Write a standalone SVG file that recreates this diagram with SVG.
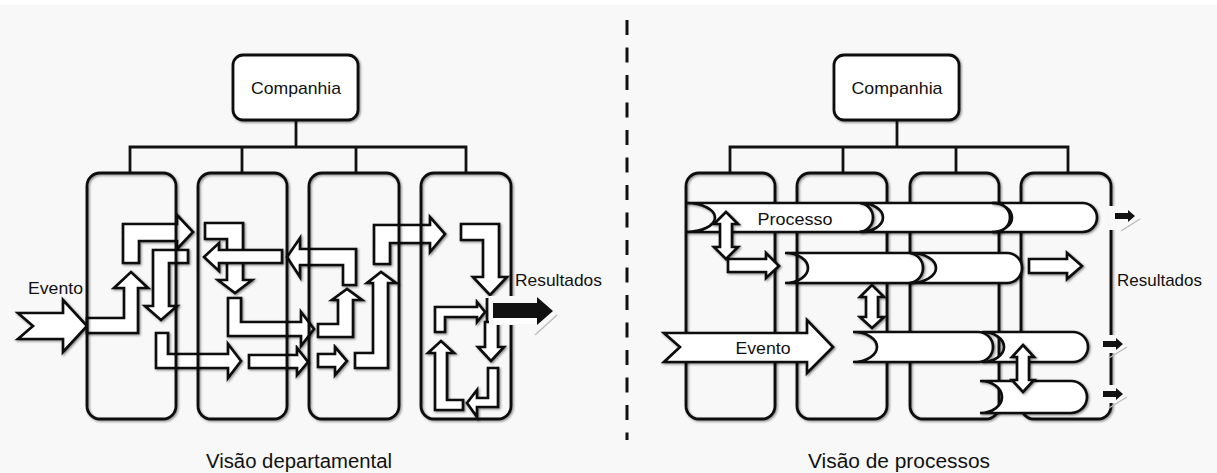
<svg xmlns="http://www.w3.org/2000/svg" width="1217" height="473" viewBox="0 0 1217 473">
<defs>
<filter id="sh" x="-10%" y="-10%" width="130%" height="130%">
<feDropShadow dx="1.2" dy="1.2" stdDeviation="0.9" flood-color="#000" flood-opacity="0.45"/>
</filter>
<style>
.bx{fill:none;stroke:#111;stroke-width:2.8;filter:url(#sh)}
.bxw{fill:#fff;stroke:#111;stroke-width:2.8;filter:url(#sh)}
.ln{fill:none;stroke:#111;stroke-width:2.8}
.ar{fill:#fff;stroke:#111;stroke-width:2.7;stroke-linejoin:miter;filter:url(#sh)}
.blk{fill:#111;stroke:none}
.gl{fill:none;stroke:#bbb;stroke-width:1.4}
.t{font-family:"Liberation Sans",Arial,sans-serif;font-size:17px;fill:#111;text-anchor:middle}
.cap{font-family:"Liberation Sans",Arial,sans-serif;font-size:20px;fill:#111;text-anchor:middle}
</style>
</defs>
<rect x="0" y="0" width="1217" height="473" fill="#f8f8f8"/>
<rect x="0" y="0" width="1217" height="5" fill="#fff"/>

<g id="divider"><line x1="627" y1="20" x2="627" y2="440" stroke="#111" stroke-width="3" stroke-dasharray="15 12.5"/></g>

<!-- LEFT: departmental view -->
<g id="connectors-left">
<path class="ln" d="M296 120V147M130 173V147H466V173M242 147V173M356 147V173"/>
</g>
<g id="companhia-left"><rect class="bxw" x="233" y="55" width="125" height="65" rx="10"/><text class="t" x="296" y="94" textLength="90" lengthAdjust="spacingAndGlyphs">Companhia</text></g>

<g id="arrows-left">
<polygon class="ar" points="18,313 63,313 63,300 87,326 63,352 63,339 18,339 33,326"/>
<polygon class="ar" points="87,318 124,318 124,288 114,288 131,272 148,288 138,288 138,333 87,333"/>
<polygon class="ar" points="123,263 123,224 177,224 177,215 193,232 177,249 177,241 139,241 139,263"/>
<polygon class="ar" points="153,250 188,250 188,263 169,263 169,306 177,306 161,320 145,306 153,306"/>
<polygon class="ar" points="156,333 168,333 168,354 228,354 228,344 241,361 228,378 228,368 156,368"/>
<polygon class="ar" points="249,355 297,355 297,348 308,362 297,375 297,368 249,368"/>
<polygon class="ar" points="205,223 243,223 243,280 252,280 235,293 218,280 227,280 227,239 205,239"/>
<polygon class="ar" points="282,250 219,250 219,243 204,257 219,271 219,263 282,263"/>
<polygon class="ar" points="356,249 300,249 300,238 287,257 300,277 300,265 343,265 343,285 356,285"/>
<polygon class="ar" points="228,298 241,298 241,322 301,322 301,312 314,329 301,346 301,336 228,336"/>
<polygon class="ar" points="318,324 338,324 338,300 332,300 347,289 362,300 353,300 353,337 318,337"/>
<polygon class="ar" points="318,354 335,354 335,347 347,361 335,375 335,367 318,367"/>
<polygon class="ar" points="355,353 373,353 373,283 367,283 381,272 396,283 388,283 388,368 355,368"/>
<polygon class="ar" points="374,264 374,225 430,225 430,217 445,234 430,252 430,243 390,243 390,264"/>
<polygon class="ar" points="461,224 499,224 499,277 507,277 490,295 473,277 483,277 483,240 461,240"/>
<polygon class="ar" points="435,332 435,307 477,307 477,302 485,312 477,322 477,317 445,317 445,332"/>
<polygon class="ar" points="485,322 498,322 498,347 504,347 491,361 478,347 485,347"/>
<polygon class="ar" points="488,368 498,368 498,407 477,407 477,417 467,403 477,390 477,398 488,398"/>
<polygon class="ar" points="435,410 435,353 428,353 441,341 454,353 447,353 447,400 463,400 463,410"/>
</g>

<g id="dept-1"><rect class="bx" x="87" y="173" width="89" height="246" rx="13"/></g>
<g id="dept-2"><rect class="bx" x="198" y="173" width="89" height="246" rx="13"/></g>
<g id="dept-3"><rect class="bx" x="309" y="173" width="90" height="246" rx="13"/></g>
<g id="dept-4"><rect class="bx" x="421" y="173" width="90" height="246" rx="13"/></g>

<g id="resultado-left">
<rect x="489" y="296" width="52" height="29" fill="#f8f8f8"/>
<rect x="493" y="318" width="44" height="6" fill="#fff"/>
<line class="ln" x1="487" y1="298" x2="487" y2="323" stroke-width="1.6"/>
<polygon class="blk" points="493,303 537,303 537,297 553,311 537,325 537,318 493,318"/>
<line class="gl" x1="535" y1="335" x2="557" y2="315"/>
</g>
<text class="t" x="28" y="294" style="text-anchor:start" textLength="55" lengthAdjust="spacingAndGlyphs">Evento</text>
<text class="t" x="515" y="286" style="text-anchor:start" textLength="87" lengthAdjust="spacingAndGlyphs">Resultados</text>

<!-- RIGHT: process view -->
<g id="connectors-right">
<path class="ln" d="M897 120V147M730 173V147H1068V173M843 147V173M956 147V173"/>
</g>
<g id="companhia-right"><rect class="bxw" x="834" y="55" width="125" height="65" rx="10"/><text class="t" x="897" y="94" textLength="91" lengthAdjust="spacingAndGlyphs">Companhia</text></g>

<g id="area-1"><rect class="bx" x="686" y="173" width="89" height="246" rx="13"/></g>
<g id="area-2"><rect class="bx" x="797" y="173" width="90" height="246" rx="13"/></g>
<g id="area-3"><rect class="bx" x="910" y="173" width="89" height="246" rx="13"/></g>
<g id="area-4"><rect class="bx" x="1021" y="173" width="90" height="246" rx="13"/></g>

<g id="processo-1a"><path class="ar" d="M686 203H858.5A14.5 14.5 0 0 1 858.5 232H686A29 14.5 0 0 0 686 203Z"/><text class="t" x="795" y="225" textLength="75" lengthAdjust="spacingAndGlyphs">Processo</text></g>
<g id="processo-1b"><path class="ar" d="M860 203H995.5A14.5 14.5 0 0 1 995.5 232H860A23 14.5 0 0 0 860 203Z"/></g>
<g id="processo-1c"><path class="ar" d="M992 203H1082.5A14.5 14.5 0 0 1 1082.5 232H992A20 14.5 0 0 0 992 203Z"/></g>

<g id="processo-2a"><path class="ar" d="M785 253H908A15 15 0 0 1 908 283H785A23 15 0 0 0 785 253Z"/></g>
<g id="processo-2b"><path class="ar" d="M910 253H1007A15 15 0 0 1 1007 283H910A26 15 0 0 0 910 253Z"/></g>

<g id="processo-3a"><path class="ar" d="M853 332H978A15 15 0 0 1 978 362H853A24 15 0 0 0 853 332Z"/></g>
<g id="processo-3b"><path class="ar" d="M982 332H1073A15 15 0 0 1 1073 362H982A22 15 0 0 0 982 332Z"/></g>
<g id="processo-4"><path class="ar" d="M980 381H1071A16 16 0 0 1 1071 413H980A22 16 0 0 0 980 381Z"/></g>

<g id="arrows-right">
<polygon class="ar" points="726,212 738,224 732,224 732,247 738,247 726,259 714,247 720,247 720,224 714,224"/>
<polygon class="ar" points="728,259 766,259 766,253 779,266 766,278 766,272 728,272"/>
<polygon class="ar" points="872,285 884,297 878,297 878,317 884,317 872,328 860,317 866,317 866,297 860,297"/>
<polygon class="ar" points="1023,345 1034,357 1029,357 1029,380 1034,380 1023,392 1012,380 1017,380 1017,357 1012,357"/>
<polygon class="ar" points="1029,259 1067,259 1067,253 1082,266 1067,279 1067,273 1029,273"/>
</g>
<g id="evento-right"><polygon class="ar" points="664,333 807,333 807,320 833,347 807,373 807,362 664,362 680,347"/><text class="t" x="763" y="354" textLength="55" lengthAdjust="spacingAndGlyphs">Evento</text></g>

<g id="resultados-right">
<rect x="1109" y="206" width="30" height="24" fill="#f8f8f8"/>
<rect x="1099" y="335" width="28" height="18" fill="#f8f8f8"/>
<rect x="1099" y="385" width="28" height="18" fill="#f8f8f8"/>
<polygon class="blk" points="1115,213 1128,213 1128,210 1135,216 1128,222 1128,219 1115,219"/>
<polygon class="blk" points="1103,341 1116,341 1116,338 1123,344 1116,350 1116,347 1103,347"/>
<polygon class="blk" points="1103,391 1116,391 1116,388 1123,394 1116,400 1116,397 1103,397"/>
<line class="gl" x1="1121" y1="231" x2="1140" y2="219"/>
<line class="gl" x1="1109" y1="358" x2="1127" y2="347"/>
<line class="gl" x1="1109" y1="408" x2="1127" y2="397"/>
<text class="t" x="1117" y="286" style="text-anchor:start" textLength="85" lengthAdjust="spacingAndGlyphs">Resultados</text>
</g>

<text class="cap" x="299" y="468" textLength="186" lengthAdjust="spacingAndGlyphs">Visão departamental</text>
<text class="cap" x="899" y="468" textLength="182" lengthAdjust="spacingAndGlyphs">Visão de processos</text>
</svg>
